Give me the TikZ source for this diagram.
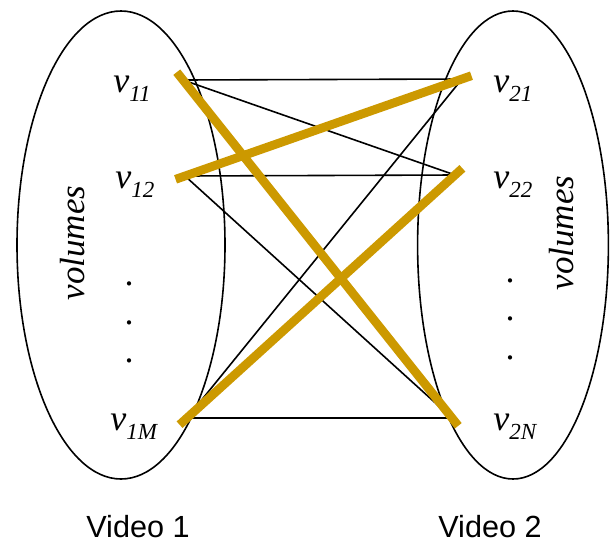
\documentclass[tikz,border=0pt]{standalone}
\usepackage{fontspec}
\setmainfont{Liberation Serif}
\newfontfamily\arialfont{Liberation Sans}
\definecolor{gold}{RGB}{204,153,0}
\newcommand\vlab[1]{\textit{v}\raisebox{-4.5pt}{\fontsize{11.5}{12}\selectfont\itshape #1}}

\begin{document}
\begin{tikzpicture}[x=0.5pt, y=-0.5pt, font=\fontsize{18}{20}\selectfont,
  link/.style={line width=0.8pt},
  match/.style={draw=gold, line width=4.4pt, shorten <=-5pt, shorten >=-5pt},
  lab/.style={anchor=base west, inner sep=0pt},
  dot/.style={anchor=base, inner sep=0pt},
  vol/.style={rotate=90, font=\fontsize{17.5}{20}\selectfont\itshape},
  videolab/.style={anchor=base, font=\arialfont\fontsize{15.3}{18}\selectfont}]
  \useasboundingbox (0,0) rectangle (610,541);
  \draw[link] (121,245) ellipse [x radius=52pt, y radius=117pt];
  \draw[link] (513,245) ellipse [x radius=47.7pt, y radius=117pt];

  \coordinate (p11) at (183,80);
  \coordinate (p12) at (185,176);
  \coordinate (p1M) at (187,418);
  \coordinate (p21) at (462,79);
  \coordinate (p22) at (455,175);
  \coordinate (p2N) at (452,418);

  \draw[link] (p11) -- (p21);
  \draw[link] (p11) -- (p22);
  \draw[link] (p12) -- (p22);
  \draw[link] (p12) -- (p2N);
  \draw[link] (p1M) -- (p21);
  \draw[link] (p1M) -- (p2N);
  \draw[match] (p11) -- (p2N);
  \draw[match] (p12) -- (p21);
  \draw[match] (p1M) -- (p22);

  \node[lab] (v11) at (113,92)  {\vlab{11}};
  \node[lab] (v12) at (115,188) {\vlab{12}};
  \node[lab] (v1M) at (110,430) {\vlab{1M}};
  \node[lab] (v21) at (493,92)  {\vlab{21}};
  \node[lab] (v22) at (493,188) {\vlab{22}};
  \node[lab] (v2N) at (493,430) {\vlab{2N}};
  \foreach \y [count=\i] in {285,324,362}
    \node[dot] (dl\i) at (129,\y) {.};
  \foreach \y [count=\i] in {282,320,359}
    \node[dot] (dr\i) at (510,\y) {.};

  \node[vol] (volL) at (73,243)  {volumes};
  \node[vol] (volR) at (562,233) {volumes};
  \node[videolab] (vid1) at (138,537) {Video 1};
  \node[videolab] (vid2) at (490,537) {Video 2};
\end{tikzpicture}
\end{document}
